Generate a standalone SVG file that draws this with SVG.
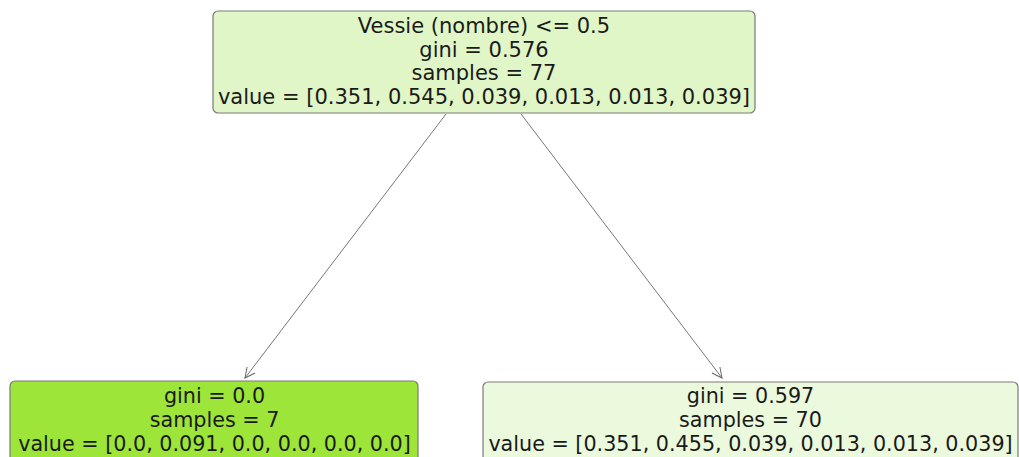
<svg xmlns="http://www.w3.org/2000/svg" width="1019" height="457" viewBox="0 0 1019 457">
<defs>
<marker id="ah" viewBox="0 0 12 12" refX="11" refY="6" markerWidth="12" markerHeight="12" markerUnits="userSpaceOnUse" orient="auto">
<path d="M1,1 L11,6 L1,11" fill="none" stroke="#666" stroke-width="1"/>
</marker>
<style>
.box{stroke:#7a7a7a;stroke-width:1.2}
.t{font-family:"DejaVu Sans",sans-serif;font-size:21px;fill:#1a1a1a;text-anchor:middle}
.s{font-size:20.7px}
.e{stroke:#777;stroke-width:1;fill:none;marker-end:url(#ah)}
</style>
</defs>
<rect width="1019" height="457" fill="#ffffff"/>
<g id="edges">
<line class="e" x1="446" y1="114" x2="245" y2="378"/>
<line class="e" x1="521" y1="114" x2="722" y2="378"/>
</g>
<g id="root">
<rect class="box" x="213" y="11" width="542" height="102" rx="5" fill="#e0f6c6"/>
<text class="t" x="484" y="33">Vessie (nombre) &lt;= 0.5</text>
<text class="t" x="484" y="57">gini = 0.576</text>
<text class="t" x="484" y="80">samples = 77</text>
<text class="t" x="484" y="104">value = [0.351, 0.545, 0.039, 0.013, 0.013, 0.039]</text>
</g>
<g id="left">
<rect class="box" x="10" y="381" width="408" height="90" rx="5" fill="#9de539"/>
<text class="t s" x="214.5" y="403">gini = 0.0</text>
<text class="t s" x="214.5" y="427">samples = 7</text>
<text class="t s" x="214.5" y="451">value = [0.0, 0.091, 0.0, 0.0, 0.0, 0.0]</text>
</g>
<g id="right">
<rect class="box" x="483" y="382" width="535" height="90" rx="5" fill="#ebf9dc"/>
<text class="t s" x="750.5" y="403">gini = 0.597</text>
<text class="t s" x="750.5" y="427">samples = 70</text>
<text class="t s" x="750.5" y="451">value = [0.351, 0.455, 0.039, 0.013, 0.013, 0.039]</text>
</g>
</svg>
